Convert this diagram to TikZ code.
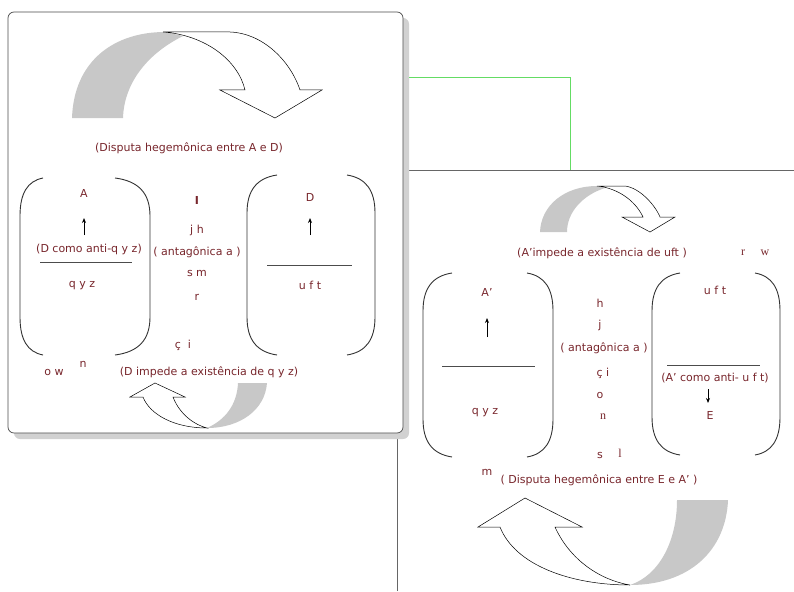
\documentclass[tikz,border=0pt]{standalone}
\usepackage{fontspec}
\usetikzlibrary{arrows.meta}
\setmainfont{DejaVu Sans}
\newfontfamily\serifface{Liberation Serif}
\definecolor{txtred}{RGB}{120,38,44}
\definecolor{backgray}{RGB}{200,200,200}
\definecolor{linkgreen}{RGB}{100,220,100}
\begin{document}
\begin{tikzpicture}[x=1pt,y=-1pt,
  lbl/.style={text=txtred,font=\fontsize{11}{12}\selectfont,inner sep=0pt},
  slbl/.style={text=txtred,font=\fontsize{12}{12}\serifface,inner sep=0pt},
  paren/.style={line width=0.9pt,black!80},
  rule/.style={line width=0.6pt,black!70},
  tick/.style={-{Stealth[length=5pt,width=4pt]},line width=0.9pt},
  band/.style={fill=white,draw=black,line width=0.5pt},
  back/.style={fill=backgray}]
\useasboundingbox (0,0) rectangle (794,591);

% right panel, partly under the left one
\draw[black!60,line width=0.7pt] (397,591) -- (397,170) -- (794,170);

% left panel with its shadow
\fill[black!18,rounded corners=6pt] (14,18) rectangle (409,439);
\draw[black!70,fill=white,rounded corners=6pt,line width=0.7pt] (8,12) rectangle (403,433);

% green link between the panels
\coordinate (linkA) at (409,77);
\coordinate (linkB) at (570,170);
\draw[linkgreen,line width=0.9pt] (linkA) -| (linkB);

% curved arrows
\fill[back] (72,118) .. controls (74,60) and (115,32) .. (165,32) -- (183,36) .. controls (145,55) and (124,85) .. (123,118) -- cycle;
\draw[band] (163,32) -- (230,32) .. controls (262,33) and (290,60) .. (300,90) -- (322,90) -- (275,118) -- (220,90) -- (245,90) .. controls (238,60) and (205,35) .. (163,32) -- cycle;

\fill[back] (238,383) -- (267,383) .. controls (265,410) and (240,428) .. (207,428) .. controls (225,420) and (237,405) .. (238,383) -- cycle;
\draw[band] (207,428) .. controls (175,428) and (150,415) .. (143,397) -- (130,397) -- (155,383) -- (185,397) -- (173,397) .. controls (180,415) and (195,425) .. (207,428) -- cycle;

\fill[back] (540,232) .. controls (541,205) and (565,186) .. (597,186) -- (605,188) .. controls (583,195) and (567,212) .. (567,232) -- cycle;
\draw[band] (597,186) -- (625,186) .. controls (640,188) and (655,205) .. (660,217) -- (675,217) -- (650,232) -- (622,217) -- (643,217) .. controls (635,200) and (617,188) .. (597,186) -- cycle;

\fill[back] (677,500) -- (728,500) .. controls (726,550) and (690,585) .. (630,585) .. controls (660,575) and (677,540) .. (677,500) -- cycle;
\draw[band] (630,585) .. controls (570,585) and (515,565) .. (500,527) -- (478,527) -- (525,498) -- (582,527) -- (555,527) .. controls (570,560) and (600,580) .. (630,585) -- cycle;

% brackets: end x / curve x / top / bottom
\foreach \xe/\xc/\yt/\yb in {43/20/178/355, 115/150/178/355, 277/247/175/355, 347/375/175/355,
  452/423/273/457, 527/553/273/457, 680/652/273/455, 755/780/273/455}
  \draw[paren] (\xe,\yt) .. controls ({(\xe+2*\xc)/3},\yt+3) and (\xc,\yt+15) .. (\xc,\yt+38)
    -- (\xc,\yb-38) .. controls (\xc,\yb-15) and ({(\xe+2*\xc)/3},\yb-3) .. (\xe,\yb);

% left panel texts
\node[lbl] (disputaAD) at (189,148) {(Disputa hegemônica entre A e D)};
\node[lbl] (A) at (84,193) {A};
\node[lbl] (antiqyz) at (89,249) {(D como anti-q y z)};
\node[lbl] (qyzL) at (82,286) {q y z};
\node[lbl] (I) at (197,200) {\textbf{I}};
\node[lbl] (jh) at (197,230) {j h};
\node[lbl] (antagL) at (197,252) {( antagônica a )};
\node[lbl] (sm) at (197,273) {s m};
\node[lbl] (rL) at (197,297) {r};
\node[lbl] (ci) at (183,345) {ç\hspace{7pt}i};
\node[lbl] (D) at (310,197) {D};
\node[lbl] (uftL) at (310,285) {u f t};
\node[lbl] (ow) at (54,372) {o w};
\node[lbl] (nL) at (83,364) {n};
\node[lbl] (impedeD) at (209,372) {(D impede a existência de q y z)};
\draw[rule] (40,262) -- (132,262);
\draw[rule] (267,265) -- (352,265);
\coordinate (upA0) at (84,235);
\coordinate (upA1) at (84,218);
\draw[tick] (upA0) -- (upA1);
\coordinate (upD0) at (310,235);
\coordinate (upD1) at (310,218);
\draw[tick] (upD0) -- (upD1);

% right panel texts
\node[lbl] (impedeA) at (602,253) {(A'impede a existência de uft )};
\node[slbl] (rR) at (743,253) {r};
\node[slbl] (wR) at (765,253) {w};
\node[lbl] (Ap) at (487,292) {A'};
\node[lbl] (qyzR) at (485,413) {q y z};
\node[lbl] (h) at (600,303) {h};
\node[lbl] (j) at (600,325) {j};
\node[lbl] (antagR) at (604,348) {( antagônica a )};
\node[lbl] (ciR) at (603,373) {ç i};
\node[lbl] (o) at (600,395) {o};
\node[slbl] (nR) at (603,417) {n};
\node[lbl] (s) at (600,455) {s};
\node[slbl] (l) at (620,453) {l};
\node[lbl] (uftR) at (715,290) {u f t};
\node[lbl] (antiuft) at (715,378) {(A' como anti- u f t)};
\node[lbl] (E) at (710,415) {E};
\node[lbl] (m) at (487,472) {m};
\node[lbl] (disputaEA) at (599,480) {( Disputa hegemônica entre E e A' )};
\draw[rule] (442,366) -- (535,366);
\draw[rule] (667,365) -- (760,365);
\coordinate (upAp0) at (487,337);
\coordinate (upAp1) at (487,318);
\draw[tick] (upAp0) -- (upAp1);
\coordinate (dnE0) at (708,389);
\coordinate (dnE1) at (708,403);
\draw[tick] (dnE0) -- (dnE1);
\end{tikzpicture}
\end{document}
